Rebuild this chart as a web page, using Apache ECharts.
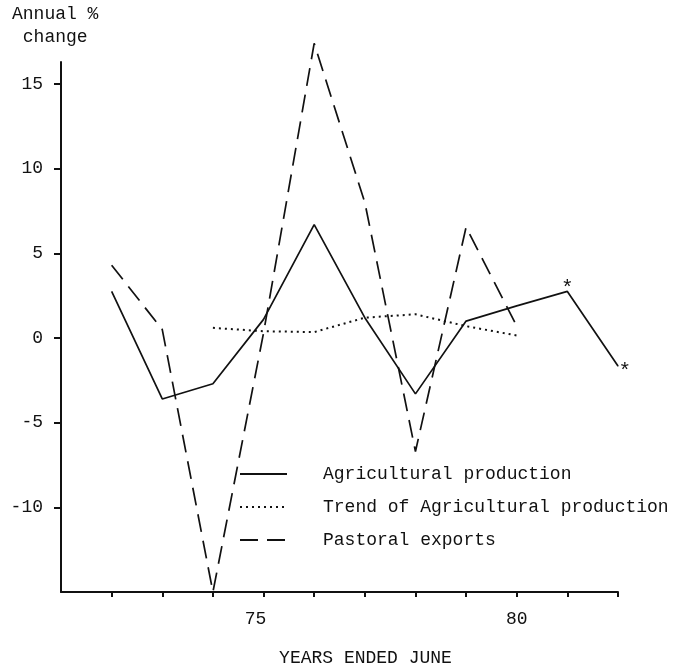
<!DOCTYPE html>
<html>
<head>
<meta charset="utf-8">
<script src="https://cdn.jsdelivr.net/npm/echarts@6/dist/echarts.min.js"></script>
<style>html,body{margin:0;padding:0;background:#fff}#c{width:690px;height:672px}</style>
</head>
<body>
<div id="c"></div>
<script>
var agriYears = [72, 73, 74, 75, 76, 77, 78, 79, 80, 81, 82];
var agriValues = [2.75, -3.6, -2.7, 1.1, 6.7, 1.2, -3.3, 1.0, 1.9, 2.75, -1.65];
var trendYears = [74, 75, 76, 77, 78, 79, 80];
var trendValues = [0.6, 0.4, 0.35, 1.2, 1.4, 0.7, 0.15];
var pastYears = [72, 73, 74, 75, 76, 77, 78, 79, 80];
var pastValues = [4.3, 0.5, -15, 0.3, 17.4, 8.0, -6.7, 6.55, 0.7];
var starredYears = [81, 82];
var yTickLabels = [-10, -5, 0, 5, 10, 15];
var xTickValues = [72, 73, 74, 75, 76, 77, 78, 79, 80, 81, 82];
var xTickLabels = [75, 80];

var FONT = '"Liberation Mono", "Courier New", monospace';

function pairs(xs, ys) {
  return xs.map(function (x, i) { return [x, ys[i]]; });
}
var agriData = agriYears.map(function (x, i) {
  var item = { value: [x, agriValues[i]] };
  if (starredYears.indexOf(x) >= 0) {
    item.symbol = 'circle';
    item.symbolSize = 1;
    item.label = {
      show: true, formatter: '*',
      position: x === 82 ? 'right' : 'top',
      distance: 2,
      fontFamily: FONT, fontSize: 21, color: '#111',
      offset: x === 82 ? [-2, 5] : [0, 10]
    };
  }
  return item;
});

var chart = echarts.init(document.getElementById('c'), null, { renderer: 'canvas' });
chart.setOption({
  backgroundColor: '#fff',
  animation: false,
  textStyle: { fontFamily: FONT, color: '#111' },
  title: {
    text: 'Annual %\n change',
    left: 12, top: 3, padding: 0,
    textStyle: { fontFamily: FONT, fontSize: 18, fontWeight: 'normal', color: '#111', lineHeight: 23 }
  },
  legend: {
    orient: 'vertical',
    left: 234, top: 460,
    itemWidth: 47, itemHeight: 12, itemGap: 15,
    itemStyle: { opacity: 0 },
    textStyle: { fontFamily: FONT, fontSize: 18, color: '#111', padding: [0, 0, 0, 31] },
    data: ['Agricultural production', 'Trend of Agricultural production', 'Pastoral exports']
  },
  grid: { left: 61, right: 72, top: 62, bottom: 76, containLabel: false },
  xAxis: {
    type: 'value', min: 71, max: 82, interval: 1,
    name: 'YEARS ENDED JUNE', nameLocation: 'middle', nameGap: 57,
    nameTextStyle: { fontFamily: FONT, fontSize: 18, color: '#111', padding: [0, 0, 0, 52] },
    axisLine: { onZero: false, lineStyle: { color: '#111', width: 2 } },
    axisTick: { show: true, length: 5, customValues: xTickValues, lineStyle: { color: '#111', width: 2 } },
    axisLabel: {
      customValues: xTickLabels, margin: 18, fontFamily: FONT, fontSize: 18, color: '#111',
      formatter: function (v) { return v === 75 ? '{s|75}' : String(v); },
      rich: { s: { fontFamily: FONT, fontSize: 18, color: '#111', padding: [0, 16, 0, 0] } }
    },
    splitLine: { show: false }
  },
  yAxis: {
    type: 'value', min: -15, max: 16.3, interval: 5,
    axisLine: { show: true, onZero: false, lineStyle: { color: '#111', width: 2 } },
    axisTick: { show: true, length: 7, customValues: yTickLabels, lineStyle: { color: '#111', width: 2 } },
    axisLabel: { customValues: yTickLabels, margin: 18, fontFamily: FONT, fontSize: 18, color: '#111' },
    splitLine: { show: false }
  },
  series: [
    {
      name: 'Agricultural production', type: 'line', data: agriData,
      symbol: 'none', clip: false,
      lineStyle: { color: '#111', width: 1.7, type: 'solid' },
      itemStyle: { color: '#111' }
    },
    {
      name: 'Trend of Agricultural production', type: 'line', data: pairs(trendYears, trendValues),
      symbol: 'none', clip: false,
      lineStyle: { color: '#111', width: 2, type: [2, 4] },
      itemStyle: { color: '#111' }
    },
    {
      name: 'Pastoral exports', type: 'line', data: pairs(pastYears, pastValues),
      symbol: 'none', clip: false,
      lineStyle: { color: '#111', width: 1.7, type: [18, 9] },
      itemStyle: { color: '#111' }
    }
  ]
});
</script>
</body>
</html>
